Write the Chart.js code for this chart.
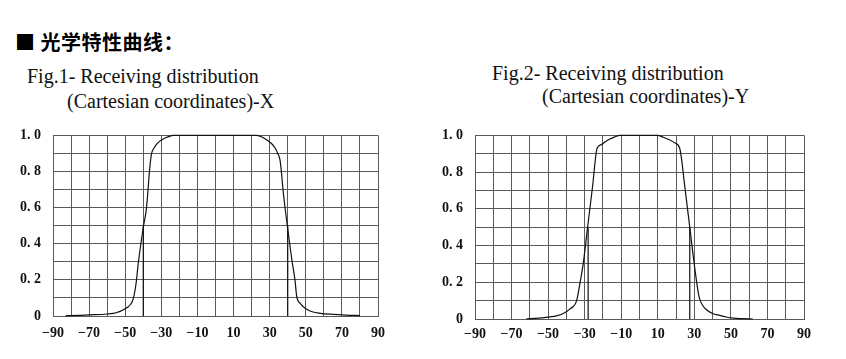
<!DOCTYPE html>
<html>
<head>
<meta charset="utf-8">
<script src="https://cdn.jsdelivr.net/npm/chart.js@4"></script>
<style>
  body { margin: 0; background: #fff; width: 846px; height: 359px; overflow: hidden; position: relative; }
  .head { position: absolute; left: 15px; top: 27px; font: bold 20px "Noto Sans CJK SC"; color: #000; letter-spacing: 0.5px; }
  .fig { position: absolute; font: 20px "Liberation Serif"; color: #111; white-space: nowrap; }
  canvas { position: absolute; }
</style>
</head>
<body>
<div class="head">■ 光学特性曲线：</div>
<div class="fig" style="left:27px;top:65px">Fig.1- Receiving distribution</div>
<div class="fig" style="left:67px;top:90px">(Cartesian coordinates)-X</div>
<div class="fig" style="left:492px;top:62px">Fig.2- Receiving distribution</div>
<div class="fig" style="left:542px;top:85px">(Cartesian coordinates)-Y</div>
<canvas id="chartX" width="400" height="230" style="left:0;top:115px"></canvas>
<canvas id="chartY" width="410" height="230" style="left:420px;top:115px"></canvas>
<script>
// tick labels
const xTickLabels = ['−90', '−70', '−50', '−30', '−10', '10', '30', '50', '70', '90'];
const yTickLabels = ['0', '0. 2', '0. 4', '0. 6', '0. 8', '1. 0'];

// Fig.1 - X direction
const angleX = [-83, -75, -70, -60, -55, -50, -47, -45.5, -44, -42.8, -40, -38.2, -36.4, -35.4, -34, -32.7, -31, -29, -26, -23.4, 0, 22.8, 26, 28.4, 31, 33, 34.5, 35.8, 37.6, 39.9, 42.3, 44, 45, 46.9, 50.6, 54, 58, 65, 72, 80];
const valueX = [0.002, 0.004, 0.006, 0.011, 0.018, 0.04, 0.065, 0.098, 0.18, 0.29, 0.49, 0.6, 0.82, 0.9, 0.93, 0.95, 0.967, 0.98, 0.993, 1.0, 1.0, 1.0, 0.99, 0.975, 0.955, 0.93, 0.9, 0.86, 0.68, 0.49, 0.31, 0.2, 0.107, 0.07, 0.037, 0.022, 0.015, 0.009, 0.005, 0.002];
const markX = [-40, 40];

// Fig.2 - Y direction
const angleY = [-62, -55, -50, -45, -41.7, -38, -34.4, -32.5, -30.8, -28.4, -25.7, -23.2, -20.8, -18.5, -16.2, -13.5, -10.8, 0, 9.8, 13, 16.6, 19.5, 22, 24.8, 27.5, 30.2, 32.6, 34.5, 36.6, 40, 43.9, 47.5, 51.2, 56, 62];
const valueY = [0.0, 0.005, 0.01, 0.018, 0.03, 0.055, 0.1, 0.2, 0.3, 0.5, 0.72, 0.93, 0.95, 0.967, 0.98, 0.992, 1.0, 1.0, 1.0, 0.99, 0.975, 0.958, 0.93, 0.72, 0.5, 0.28, 0.12, 0.075, 0.05, 0.03, 0.02, 0.011, 0.005, 0.002, 0.0];
const markY = [-28.1, 27.5];

const gridColor = '#5a5a5a';
const tickFont = { family: 'Liberation Serif', size: 14, weight: 'bold' };

function makeChart(id, angles, values, marks, yAxisWidth, xAxisHeight, xPad, rightPad) {
  const curve = angles.map((a, i) => ({ x: a, y: values[i] }));
  const datasets = [{
    data: curve,
    showLine: true,
    borderColor: '#111',
    borderWidth: 1.2,
    pointRadius: 0,
    cubicInterpolationMode: 'monotone',
    clip: 2,
  }];
  // half-power marker lines
  marks.forEach(m => {
    datasets.push({
      data: [{ x: m, y: 0 }, { x: m, y: 0.5 }],
      showLine: true,
      borderColor: '#111',
      borderWidth: 1.2,
      pointRadius: 0,
    });
  });

  return new Chart(document.getElementById(id), {
    type: 'scatter',
    data: { datasets: datasets },
    options: {
      responsive: false,
      animation: false,
      layout: { padding: { top: 10, right: rightPad, left: 0, bottom: 0 } },
      plugins: { legend: { display: false }, tooltip: { enabled: false } },
      scales: {
        x: {
          type: 'linear',
          min: -90,
          max: 90,
          afterFit: s => { s.height = xAxisHeight; },
          ticks: {
            stepSize: 10,
            autoSkip: false,
            maxRotation: 0,
            padding: xPad,
            color: '#111',
            font: tickFont,
            callback: v => ((v + 90) % 20 === 0 ? xTickLabels[(v + 90) / 20] : ''),
          },
          grid: { color: gridColor, lineWidth: 1, drawTicks: false },
          border: { color: gridColor },
        },
        y: {
          min: 0,
          max: 1,
          afterFit: s => { s.width = yAxisWidth; },
          ticks: {
            stepSize: 0.1,
            autoSkip: false,
            padding: 12,
            color: '#111',
            font: tickFont,
            callback: v => {
              const k = Math.round(v * 10);
              return k % 2 === 0 ? yTickLabels[k / 2] : '';
            },
          },
          grid: { color: gridColor, lineWidth: 1, drawTicks: false },
          border: { color: gridColor },
        },
      },
    },
  });
}

makeChart('chartX', angleX, valueX, markX, 53, 29, 9, 22);
makeChart('chartY', angleY, valueY, markY, 55, 26, 7, 26);
</script>
</body>
</html>
